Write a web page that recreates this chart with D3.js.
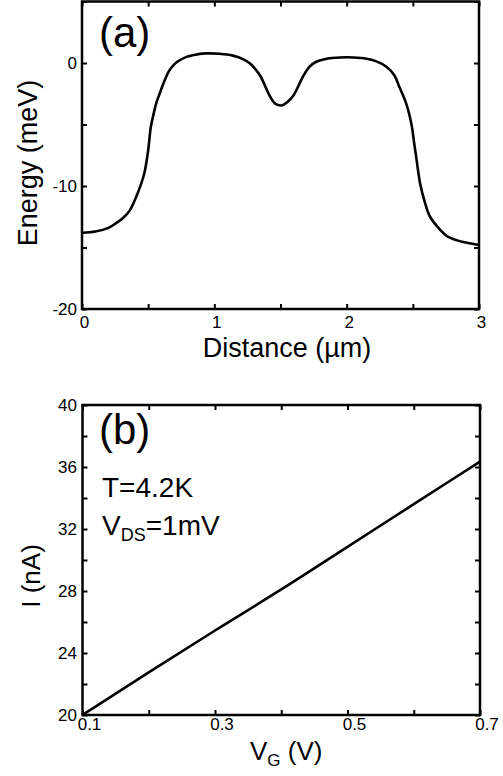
<!DOCTYPE html>
<html>
<head>
<meta charset="utf-8">
<script src="https://cdn.jsdelivr.net/npm/d3@7"></script>
<style>
  html, body { margin: 0; padding: 0; background: #fff; }
  svg { display: block; font-family: "Liberation Sans", Arial, Helvetica, sans-serif; }
</style>
</head>
<body>
<svg id="chart" width="503" height="776"></svg>
<script>
// ---------- Data: panel (a) ----------
const distance = [0, 0.1, 0.2, 0.26, 0.31, 0.36, 0.42, 0.47, 0.50, 0.52, 0.54, 0.56, 0.59, 0.61, 0.66, 0.69, 0.72, 0.79, 0.87, 0.94, 1.04, 1.14, 1.22, 1.27, 1.31, 1.35, 1.42, 1.46, 1.51, 1.55, 1.60, 1.67, 1.72, 1.77, 1.85, 1.95, 2.05, 2.15, 2.22, 2.30, 2.36, 2.40, 2.45, 2.49, 2.51, 2.53, 2.555, 2.59, 2.63, 2.71, 2.76, 2.83, 2.90, 3.0];
const energy   = [-13.8, -13.7, -13.4, -13.0, -12.6, -12.0, -10.6, -9.0, -7.1, -5.2, -4.2, -3.3, -2.4, -1.8, -0.6, -0.2, 0.1, 0.5, 0.7, 0.78, 0.75, 0.6, 0.3, -0.05, -0.5, -1.1, -2.7, -3.3, -3.45, -3.2, -2.6, -1.1, -0.3, 0.1, 0.35, 0.45, 0.45, 0.35, 0.15, -0.3, -1.0, -2.0, -3.3, -5.0, -6.5, -8.0, -9.8, -11.3, -12.5, -13.6, -14.1, -14.4, -14.6, -14.8];
const aXTicksMajor = [0, 1, 2, 3];
const aXTicksAll = [0, 0.5, 1, 1.5, 2, 2.5, 3];
const aYTicksMajor = [-20, -10, 0];
const aYTicksAll = [-20, -15, -10, -5, 0, 5];

// ---------- Data: panel (b) ----------
const gateV   = [0.1, 0.2, 0.3, 0.4, 0.5, 0.6, 0.7];
const current = [20.0, 22.75, 25.45, 28.1, 30.85, 33.6, 36.35];
const bXTicksMajor = [0.1, 0.3, 0.5, 0.7];
const bXTicksAll = [0.1, 0.2, 0.3, 0.4, 0.5, 0.6, 0.7];
const bYTicksMajor = [20, 24, 28, 32, 36, 40];
const bYTicksAll = [20, 22, 24, 26, 28, 30, 32, 34, 36, 38, 40];

const svg = d3.select("#chart");
const TICK = 5, TICK_FS = 17;

function panel(cfg) {
  const g = svg.append("g");
  const x = d3.scaleLinear().domain(cfg.xDomain).range([cfg.left, cfg.right]);
  const y = d3.scaleLinear().domain(cfg.yDomain).range([cfg.bottom, cfg.top]);

  const styleAxis = sel => {
    sel.select(".domain").remove();
    sel.selectAll(".tick line").attr("stroke", "#000").attr("stroke-width", 2);
    sel.selectAll("text").remove();
  };
  g.append("g").attr("transform", `translate(0,${cfg.bottom})`)
    .call(d3.axisBottom(x).tickValues(cfg.xTicksAll).tickSize(-TICK)).call(styleAxis);
  g.append("g").attr("transform", `translate(0,${cfg.top})`)
    .call(d3.axisTop(x).tickValues(cfg.xTicksAll).tickSize(-TICK)).call(styleAxis);
  g.append("g").attr("transform", `translate(${cfg.left},0)`)
    .call(d3.axisLeft(y).tickValues(cfg.yTicksAll).tickSize(-TICK)).call(styleAxis);
  g.append("g").attr("transform", `translate(${cfg.right},0)`)
    .call(d3.axisRight(y).tickValues(cfg.yTicksAll).tickSize(-TICK)).call(styleAxis);

  const xl = g.append("g").attr("transform", `translate(0,${cfg.bottom})`)
    .call(d3.axisBottom(x).tickValues(cfg.xTicksMajor).tickSize(0).tickPadding(cfg.xPad).tickFormat(cfg.xFmt));
  xl.select(".domain").remove();
  xl.selectAll("text").attr("font-size", TICK_FS).attr("font-family", "Liberation Sans, Arial, sans-serif")
    .attr("fill", "#000").attr("dx", cfg.xDx);
  const yl = g.append("g").attr("transform", `translate(${cfg.left},0)`)
    .call(d3.axisLeft(y).tickValues(cfg.yTicksMajor).tickSize(0).tickPadding(cfg.yPad).tickFormat(cfg.yFmt));
  yl.select(".domain").remove();
  yl.selectAll("text").attr("font-size", TICK_FS).attr("font-family", "Liberation Sans, Arial, sans-serif")
    .attr("fill", "#000");

  g.append("rect").attr("x", cfg.left).attr("y", cfg.top)
    .attr("width", cfg.right - cfg.left).attr("height", cfg.bottom - cfg.top)
    .attr("fill", "none").attr("stroke", "#000").attr("stroke-width", 2.5);

  const pts = cfg.xs.map((v, i) => [v, cfg.ys[i]]);
  g.append("path").datum(pts)
    .attr("d", d3.line().x(d => x(d[0])).y(d => y(d[1])).curve(cfg.curve))
    .attr("fill", "none").attr("stroke", "#000").attr("stroke-width", 2.6)
    .attr("stroke-linejoin", "round");
  return { g, x, y };
}

const hyphenInt = d => String(d);

panel({
  left: 82, right: 479, top: 1.5, bottom: 309,
  xDomain: [0, 3], yDomain: [-20, 5],
  xTicksAll: aXTicksAll, xTicksMajor: aXTicksMajor,
  yTicksAll: aYTicksAll, yTicksMajor: aYTicksMajor,
  xFmt: hyphenInt, yFmt: hyphenInt,
  xPad: 7, xDx: 2, yPad: 5,
  xs: distance, ys: energy, curve: d3.curveCatmullRom.alpha(0.5)
});

panel({
  left: 82.5, right: 480, top: 405, bottom: 715,
  xDomain: [0.1, 0.7], yDomain: [20, 40],
  xTicksAll: bXTicksAll, xTicksMajor: bXTicksMajor,
  yTicksAll: bYTicksAll, yTicksMajor: bYTicksMajor,
  xFmt: d3.format(".1f"), yFmt: hyphenInt,
  xPad: 3, xDx: 6.5, yPad: 5.5,
  xs: gateV, ys: current, curve: d3.curveMonotoneX
});

// ---------- Titles / annotations ----------
svg.append("text").attr("x", 99).attr("y", 47).attr("font-size", 42).text("(a)");
svg.append("text").attr("x", 99).attr("y", 444).attr("font-size", 42).text("(b)");

svg.append("text").attr("transform", "translate(37,163) rotate(-90)")
  .attr("text-anchor", "middle").attr("font-size", 27).text("Energy (meV)");
svg.append("text").attr("x", 287).attr("y", 357)
  .attr("text-anchor", "middle").attr("font-size", 27).text("Distance (\u00B5m)");

svg.append("text").attr("transform", "translate(40,576) rotate(-90)")
  .attr("text-anchor", "middle").attr("font-size", 26).text("I (nA)");

const vg = svg.append("text").attr("x", 250).attr("y", 760).attr("font-size", 26);
vg.append("tspan").text("V");
vg.append("tspan").attr("font-size", 17).attr("dy", 6).text("G");
vg.append("tspan").attr("dy", -6).text("\u00A0(V)");

svg.append("text").attr("x", 102).attr("y", 497).attr("font-size", 28).text("T=4.2K");
const vds = svg.append("text").attr("x", 102).attr("y", 535).attr("font-size", 28);
vds.append("tspan").text("V");
vds.append("tspan").attr("font-size", 18).attr("dy", 6).text("DS");
vds.append("tspan").attr("dy", -6).text("=1mV");
</script>
</body>
</html>
